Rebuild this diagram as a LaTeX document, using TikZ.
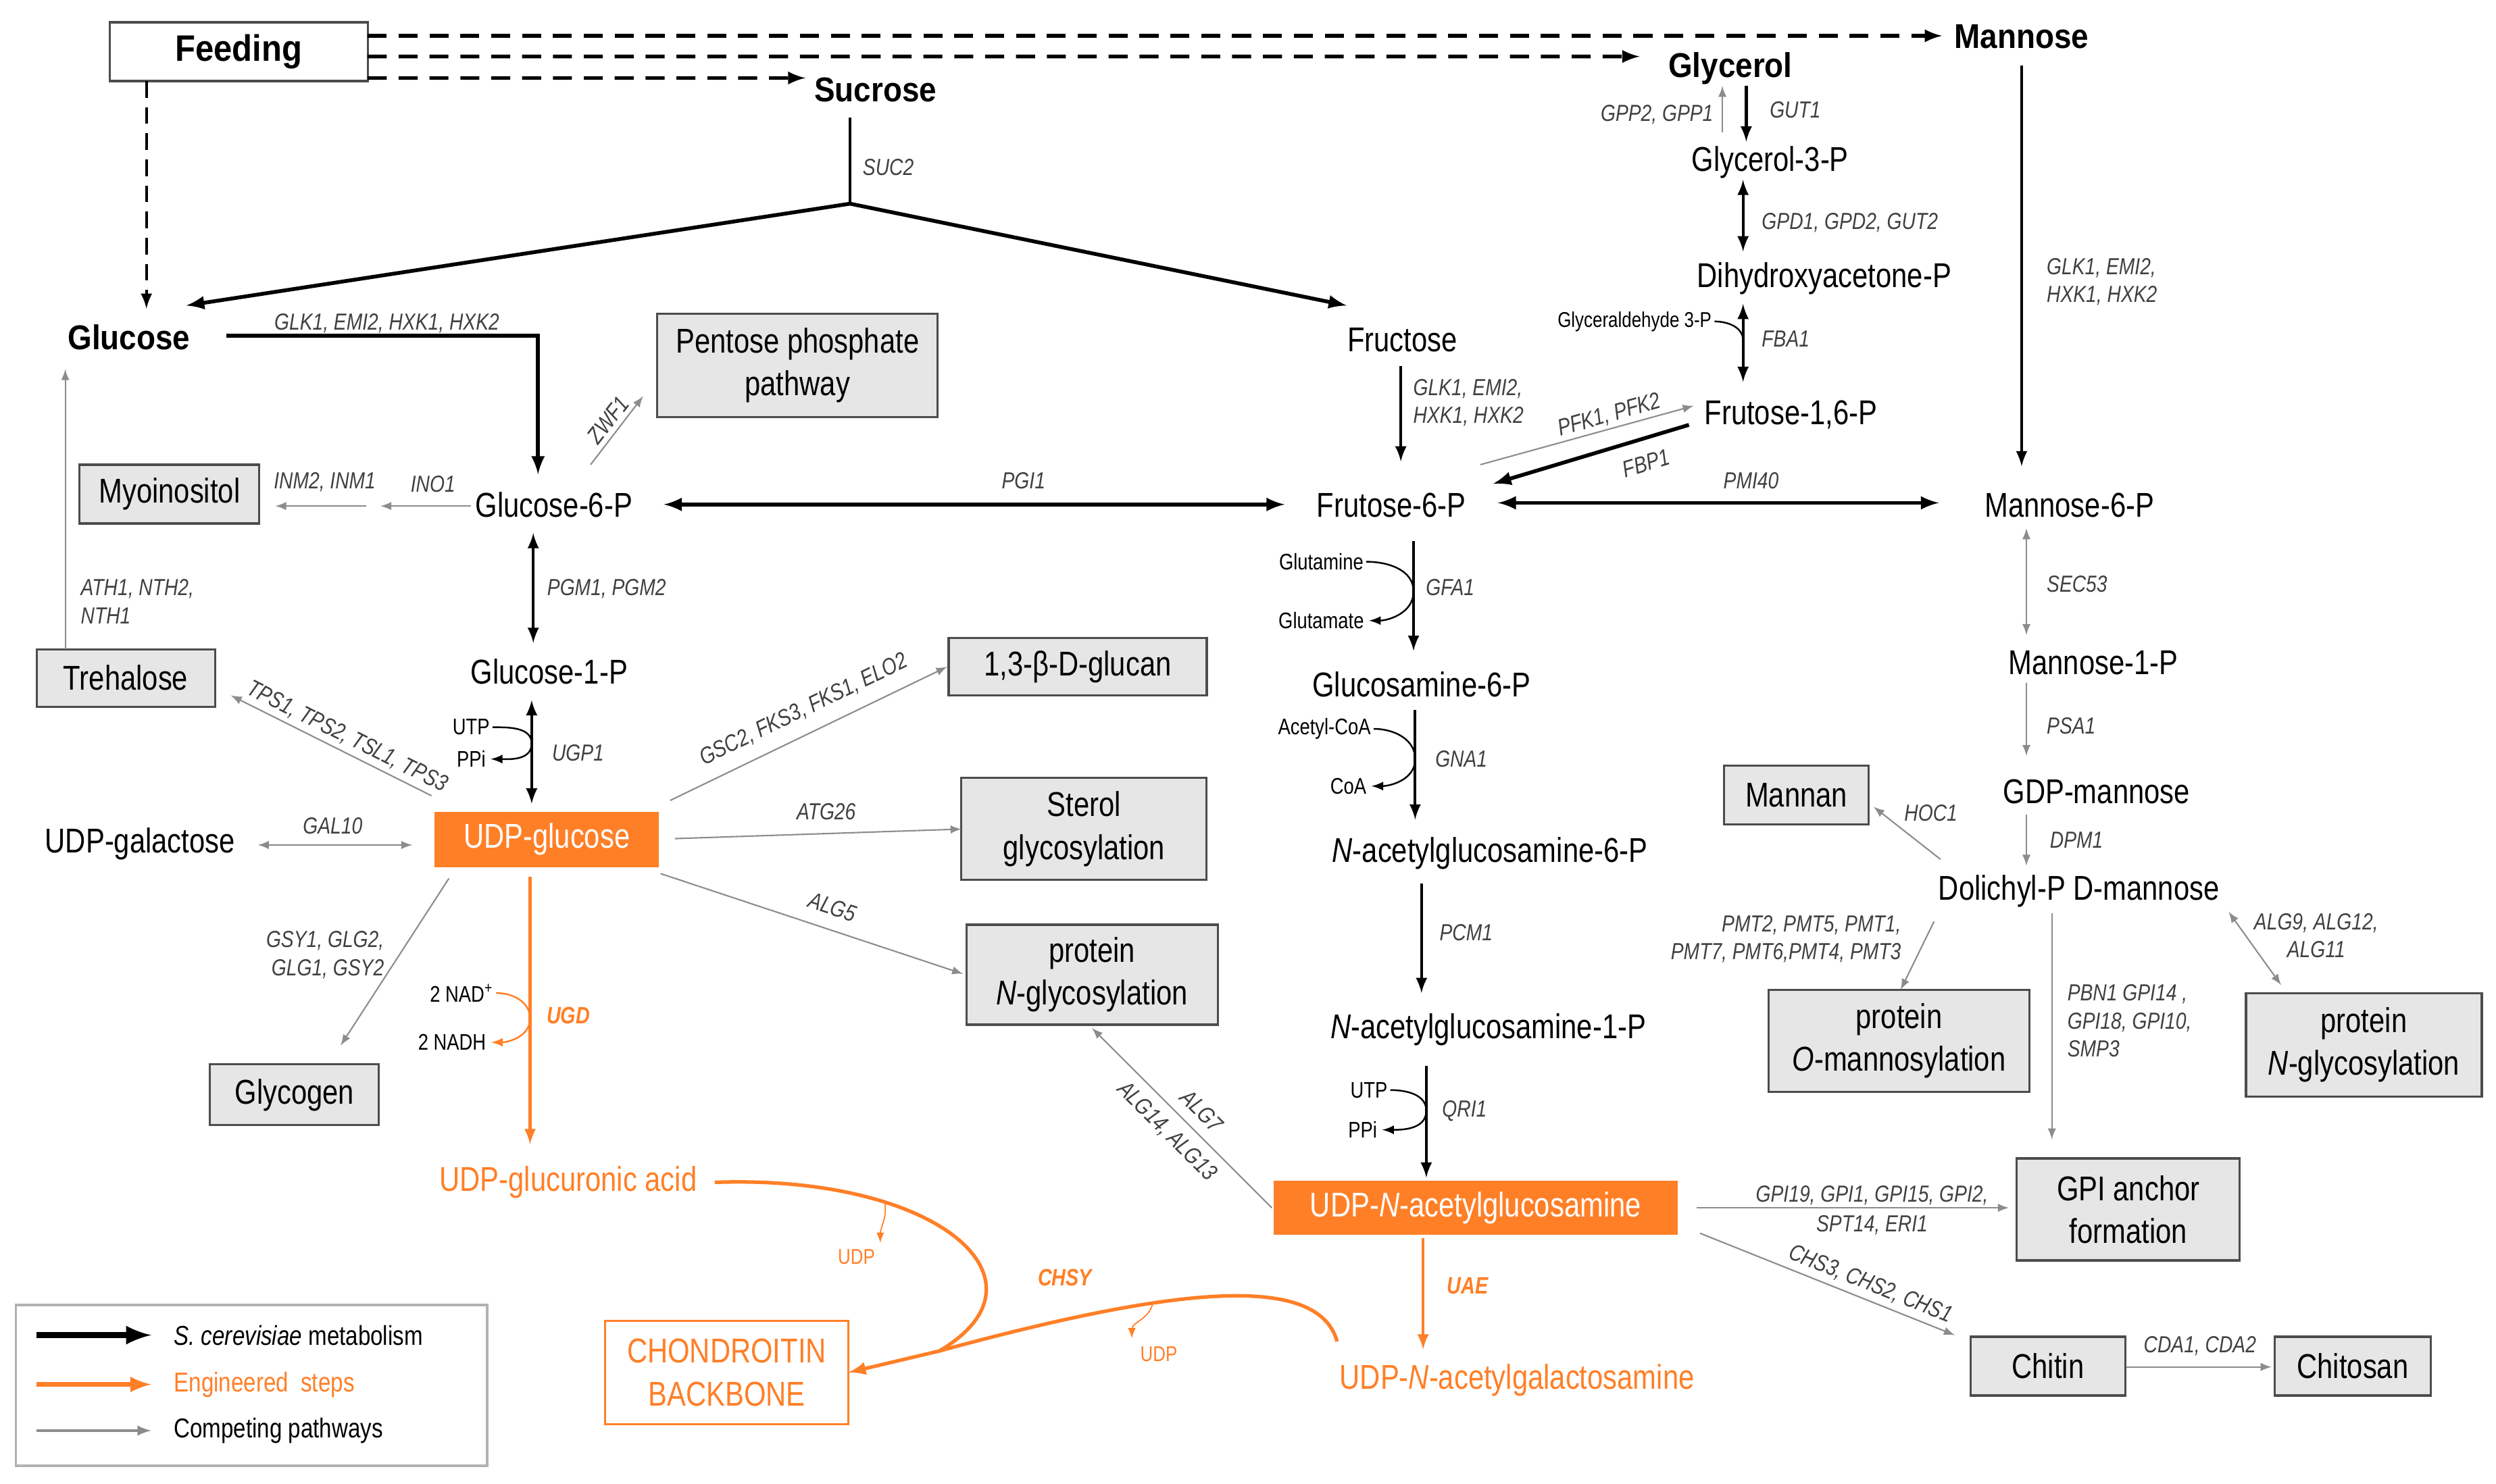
\documentclass[tikz,border=0pt]{standalone}
\usepackage{fontspec}
\setmainfont{Liberation Sans}[FakeStretch=0.82]
\newfontfamily\boldcond{Liberation Sans Bold}[FakeStretch=0.9]
\usetikzlibrary{arrows}
\definecolor{engorange}{RGB}{255,127,39}
\definecolor{boxgray}{RGB}{230,230,230}

\begin{document}
\begin{tikzpicture}[x=0.2356mm, y=-0.2356mm,
  cpd/.style={font=\fontsize{14.5}{17}\selectfont, inner sep=1pt, text height=12pt, text depth=1.6pt},
  cpdb/.style={cpd, font=\fontsize{14.5}{17}\boldcond},
  cpdo/.style={cpd, text=engorange},
  pbox/.style={draw=black!70, fill=boxgray, line width=0.9pt, align=center, inner sep=1pt, font=\fontsize{14.5}{18}\selectfont},
  obox/.style={fill=engorange, text=white, inner sep=1pt, font=\fontsize{14.5}{17}\selectfont},
  gene/.style={font=\fontsize{9.8}{11.8}\selectfont\itshape, text=black!75, inner sep=1pt},
  geneo/.style={font=\fontsize{10}{12}\selectfont\bfseries\itshape, text=engorange, inner sep=1pt},
  side/.style={font=\fontsize{9.5}{11}\selectfont, inner sep=1pt},
  leg/.style={font=\fontsize{11.5}{13}\selectfont, inner sep=0pt},
  met/.style={-latex, line width=1.2pt},
  metb/.style={-latex, line width=1.6pt},
  comp/.style={-latex, line width=0.6pt, color=black!45},
  eng/.style={-latex, line width=1.2pt, color=engorange},
  feed/.style={-latex, line width=1.5pt, dash pattern=on 8pt off 5pt},
  aux/.style={-latex, line width=0.7pt, shorten >=1pt}]
\useasboundingbox (0,0) rectangle (1568,932.5);

%%%%% Compounds %%%%%
\node[pbox, fill=white, font=\fontsize{15.5}{17}\boldcond, minimum width=38.2mm, minimum height=8.7mm] (Feeding) at (150,32.5) {Feeding};
\node[cpdb] (Sucrose) at (550,56) {Sucrose};
\node[cpdb] (Glycerol) at (1087,41) {Glycerol};
\node[cpdb] (Mannose) at (1270,22.5) {Mannose};
\node[cpdb] (Glucose) at (81,212) {Glucose};
\node[cpd] (Fructose) at (881,213) {Fructose};
\node[cpd] (G3P) at (1112,100) {Glycerol-3-P};
\node[cpd] (DHAP) at (1146,173) {Dihydroxyacetone-P};
\node[cpd] (F16P) at (1125,259) {Frutose-1,6-P};
\node[cpd] (G6P) at (348,317) {Glucose-6-P};
\node[cpd] (F6P) at (874,317) {Frutose-6-P};
\node[cpd] (M6P) at (1300,317) {Mannose-6-P};
\node[cpd] (G1P) at (345,422) {Glucose-1-P};
\node[cpd] (GlcN6P) at (893,430) {Glucosamine-6-P};
\node[cpd] (M1P) at (1315,416) {Mannose-1-P};
\node[cpd] (GDPman) at (1317,497) {GDP-mannose};
\node[cpd] (UDPgal) at (88,528) {UDP-galactose};
\node[cpd] (GlcNAc6P) at (936,534) {\textit{N}-acetylglucosamine-6-P};
\node[cpd] (DolPman) at (1306,558) {Dolichyl-P D-mannose};
\node[cpd] (GlcNAc1P) at (935,645) {\textit{N}-acetylglucosamine-1-P};
\node[cpdo] (UDPGlcA) at (357,741) {UDP-glucuronic acid};
\node[cpdo] (UDPGalNAc) at (953,865) {UDP-\textit{N}-acetylgalactosamine};
\node[obox, minimum width=33.2mm, minimum height=8.2mm] (UDPglc) at (343.5,527.5) {UDP-glucose};
\node[obox, minimum width=59.8mm, minimum height=8mm] (UDPGlcNAc) at (927,759) {UDP-\textit{N}-acetylglucosamine};
\node[pbox, fill=white, draw=engorange, text=engorange, line width=0.8pt, minimum width=36mm, minimum height=15.3mm] (Chond) at (456.5,862.5) {CHONDROITIN\\BACKBONE};

%%%%% Products %%%%%
\node[pbox, minimum width=41.5mm, minimum height=15.3mm] (Pentose) at (501,229.5) {Pentose phosphate\\pathway};
\node[pbox, minimum width=26.6mm, minimum height=8.7mm] (Myo) at (106.5,310.5) {Myoinositol};
\node[pbox, minimum width=26.4mm, minimum height=8.5mm] (Treh) at (79,426) {Trehalose};
\node[pbox, minimum width=25mm, minimum height=9mm] (Glycogen) at (185,688) {Glycogen};
\node[pbox, minimum width=38.2mm, minimum height=8.5mm] (Glucan) at (677,419) {1,3-β-D-glucan};
\node[pbox, minimum width=36.3mm, minimum height=15.1mm] (Sterol) at (681,521) {Sterol\\glycosylation};
\node[pbox, minimum width=37.2mm, minimum height=14.8mm] (protN) at (686,612.5) {protein\\\textit{N}-glycosylation};
\node[pbox, minimum width=21.4mm, minimum height=8.7mm] (Mannan) at (1128.5,499.5) {Mannan};
\node[pbox, minimum width=38.6mm, minimum height=15.1mm] (protO) at (1193,654) {protein\\\textit{O}-mannosylation};
\node[pbox, minimum width=34.9mm, minimum height=15.3mm] (protNb) at (1485,656.5) {protein\\\textit{N}-glycosylation};
\node[pbox, minimum width=33mm, minimum height=15.1mm] (GPI) at (1337,760) {GPI anchor\\formation};
\node[pbox, minimum width=22.9mm, minimum height=8.7mm] (Chitin) at (1286.5,858.5) {Chitin};
\node[pbox, minimum width=23.1mm, minimum height=8.7mm] (Chitosan) at (1478,858.5) {Chitosan};

%%%%% Feeding %%%%%
\draw[feed] ([shift={(81,-10)}]Feeding.center) -- ([shift={(-50,0)}]Mannose.center);
\draw[feed] ([shift={(81,3)}]Feeding.center) -- ([shift={(-57,-5.5)}]Glycerol.center);
\draw[feed] ([shift={(81,16.5)}]Feeding.center) -- ([shift={(-44,-7)}]Sucrose.center);
\draw[feed, line width=1.2pt, dash pattern=on 7pt off 4pt] ([shift={(-58,18.5)}]Feeding.center) -- ([shift={(11,-18)}]Glucose.center);

%%%%% Upper glycolysis %%%%%
\coordinate (suc) at (534,128);
\draw[line width=1.3pt] ([shift={(-16,18)}]Sucrose.center) -- (suc);
\draw[metb] (suc) -- ([shift={(36,-20)}]Glucose.center);
\draw[metb] (suc) -- ([shift={(-35,-21)}]Fructose.center);
\node[gene] (gSUC2) at (558,105) {SUC2};
\draw[metb] ([shift={(61,-1)}]Glucose.center) -| ([shift={(-10,-19)}]G6P.center);
\node[gene] (gGLK1) at (243,203) {GLK1, EMI2, HXK1, HXK2};
\draw[comp] ([shift={(23,-25)}]G6P.center) -- ([shift={(-97,19.5)}]Pentose.center);
\node[gene, rotate=52] (gZWF1) at (382,264) {ZWF1};
\coordinate (ino) at (234,318);
\draw[comp] ([shift={(-52,1)}]G6P.center) -- ([shift={(5,0)}]ino);
\draw[comp] ([shift={(-4,0)}]ino) -- ([shift={(66.5,7.5)}]Myo.center);
\node[gene] (gINO1) at (272,304) {INO1};
\node[gene] (gINM) at (204,303) {INM2, INM1};
\draw[metb, latex-latex] ([shift={(69,0)}]G6P.center) -- ([shift={(-67,0)}]F6P.center);
\node[gene] (gPGI1) at (643,302) {PGI1};
\draw[metb, latex-latex] ([shift={(67,-1)}]F6P.center) -- ([shift={(-82,-1)}]M6P.center);
\node[gene] (gPMI40) at (1100,302) {PMI40};
\draw[met] ([shift={(-1,17)}]Fructose.center) -- ([shift={(6,-27)}]F6P.center);
\node[gene, align=left, anchor=west] (gGLK2) at (886,253) {GLK1, EMI2,\\HXK1, HXK2};
\draw[met] ([shift={(0,18.5)}]Mannose.center) -- ([shift={(-30,-24)}]M6P.center);
\node[gene, align=left, anchor=west] (gGLK3) at (1284,177) {GLK1, EMI2,\\HXK1, HXK2};

%%%%% Glycerol %%%%%
\draw[met] ([shift={(10,13)}]Glycerol.center) -- ([shift={(-15,-11)}]G3P.center);
\node[gene, anchor=west] (gGUT1) at (1110,69) {GUT1};
\draw[comp] ([shift={(-30,-17)}]G3P.center) -- ([shift={(-5,13)}]Glycerol.center);
\node[gene, anchor=east] (gGPP) at (1078,72) {GPP2, GPP1};
\draw[met, latex-latex] ([shift={(-17,13)}]G3P.center) -- ([shift={(-51,-15)}]DHAP.center);
\node[gene, anchor=west] (gGPD) at (1105,140) {GPD1, GPD2, GUT2};
\draw[met, latex-latex] ([shift={(-51,18)}]DHAP.center) -- ([shift={(-30,-19)}]F16P.center) coordinate[pos=0.47] (fba);
\node[gene, anchor=west] (gFBA1) at (1105,213) {FBA1};
\node[side, font=\fontsize{9}{11}\selectfont, anchor=east] (GA3P) at (1077,202) {Glyceraldehyde 3-P};
\draw[line width=0.7pt] (GA3P.east) to[out=0,in=90] (fba);
\draw[comp] ([shift={(56,-25)}]F6P.center) -- ([shift={(-61,-4)}]F16P.center);
\node[gene, rotate=16] (gPFK) at (1011,261) {PFK1, PFK2};
\draw[metb] ([shift={(-64,8)}]F16P.center) -- ([shift={(64,-13)}]F6P.center);
\node[gene, rotate=17] (gFBP1) at (1034,291) {FBP1};

%%%%% Hexosamine %%%%%
\draw[met] ([shift={(14,23)}]F6P.center) -- ([shift={(-5,-21)}]GlcN6P.center) coordinate[pos=0.46] (gfa);
\node[gene] (gGFA1) at (911,369) {GFA1};
\node[side] (Gln) at (830,353) {Glutamine};
\node[side] (Glu) at (830,390) {Glutamate};
\draw[aux] (Gln.east) to[out=0,in=90] (gfa) to[out=-90,in=0] (Glu.east);
\draw[met] ([shift={(-4,16)}]GlcN6P.center) -- ([shift={(-47,-19)}]GlcNAc6P.center) coordinate[pos=0.45] (gna);
\node[gene] (gGNA1) at (918,477) {GNA1};
\node[side] (AcCoA) at (832,458) {Acetyl-CoA};
\node[side] (CoA) at (847,494) {CoA};
\draw[aux] (AcCoA.east) to[out=0,in=90] (gna) to[out=-90,in=0] (CoA.east);
\draw[met] ([shift={(-43,21)}]GlcNAc6P.center) -- ([shift={(-42,-21)}]GlcNAc1P.center);
\node[gene] (gPCM1) at (921,586) {PCM1};
\draw[met] ([shift={(-39,25)}]GlcNAc1P.center) -- ([shift={(-31,-19)}]UDPGlcNAc.center) coordinate[pos=0.4] (qri);
\node[gene] (gQRI1) at (920,698) {QRI1};
\node[side] (UTPb) at (860,685) {UTP};
\node[side] (PPib) at (856,710) {PPi};
\draw[aux] (UTPb.east) to[out=0,in=90] (qri) to[out=-90,in=0] (PPib.east);
\draw[eng] ([shift={(-33,19)}]UDPGlcNAc.center) -- ([shift={(-59,-17)}]UDPGalNAc.center);
\node[geneo] (gUAE) at (922,808) {UAE};

%%%%% Mannose branch %%%%%
\draw[comp, latex-latex] ([shift={(-27,15)}]M6P.center) -- ([shift={(-42,-17)}]M1P.center);
\node[gene, anchor=west] (gSEC53) at (1284,367) {SEC53};
\draw[comp] ([shift={(-42,13)}]M1P.center) -- ([shift={(-44,-22)}]GDPman.center);
\node[gene, anchor=west] (gPSA1) at (1284,456) {PSA1};
\draw[comp] ([shift={(-44,15)}]GDPman.center) -- ([shift={(-33,-14)}]DolPman.center);
\node[gene, anchor=west] (gDPM1) at (1286,528) {DPM1};
\draw[comp] ([shift={(-87,-18)}]DolPman.center) -- ([shift={(48.5,7.5)}]Mannan.center);
\node[gene] (gHOC1) at (1213,511) {HOC1};
\draw[comp] ([shift={(-91,21)}]DolPman.center) -- ([shift={(1,-32)}]protO.center);
\node[gene, align=right, anchor=east] (gPMT) at (1196,590) {PMT2, PMT5, PMT1,\\PMT7, PMT6,PMT4, PMT3};
\draw[comp] ([shift={(-17,16)}]DolPman.center) -- ([shift={(-48,-44)}]GPI.center);
\node[gene, align=left, anchor=north west] (gPBN1) at (1297,617) {PBN1 GPI14 ,\\GPI18, GPI10,\\SMP3};
\draw[comp, latex-latex] ([shift={(94,15)}]DolPman.center) -- ([shift={(-52,-37.5)}]protNb.center);
\node[gene, align=center] (gALG9) at (1455,588) {ALG9, ALG12,\\ALG11};
\draw[comp] ([shift={(139,0)}]UDPGlcNAc.center) -- ([shift={(-75,-1)}]GPI.center);
\node[gene] (gGPI19) at (1176,751) {GPI19, GPI1, GPI15, GPI2,};
\node[gene] (gSPT14) at (1176,770) {SPT14, ERI1};
\draw[comp] ([shift={(141,16)}]UDPGlcNAc.center) -- ([shift={(-58.5,-19.5)}]Chitin.center);
\node[gene, rotate=-21.8] (gCHS) at (1175,807) {CHS3, CHS2, CHS1};
\draw[comp] ([shift={(49.5,0.5)}]Chitin.center) -- ([shift={(-51,0.5)}]Chitosan.center);
\node[gene] (gCDA) at (1382,846) {CDA1, CDA2};

%%%%% UDP-glucose %%%%%
\draw[met, latex-latex] ([shift={(-13,18)}]G6P.center) -- ([shift={(-10,-18)}]G1P.center);
\node[gene, anchor=west] (gPGM) at (342,370) {PGM1, PGM2};
\draw[met, latex-latex] ([shift={(-11,18)}]G1P.center) -- ([shift={(-9.5,-22.5)}]UDPglc.center) coordinate[pos=0.42] (ugp);
\node[gene, anchor=west] (gUGP1) at (345,473) {UGP1};
\node[side] (UTPa) at (296,457) {UTP};
\node[side] (PPia) at (296,477) {PPi};
\draw[aux] (UTPa.east) to[out=0,in=90] (ugp) to[out=-90,in=0] (PPia.east);
\draw[comp] ([shift={(-72.5,-27.5)}]UDPglc.center) -- ([shift={(66,11)}]Treh.center);
\node[gene, rotate=-26.6] (gTPS) at (218,463) {TPS1, TPS2, TSL1, TPS3};
\draw[comp] ([shift={(-38,-18)}]Treh.center) -- ([shift={(-40,20)}]Glucose.center);
\node[gene, align=left, anchor=west] (gATH) at (49,378) {ATH1, NTH2,\\NTH1};
\draw[comp, latex-latex] ([shift={(-84.5,3.5)}]UDPglc.center) -- ([shift={(74,3)}]UDPgal.center);
\node[gene] (gGAL10) at (209,519) {GAL10};
\draw[comp] ([shift={(-61.5,24.5)}]UDPglc.center) -- ([shift={(29,-31)}]Glycogen.center);
\node[gene, align=right, anchor=east] (gGSY) at (243,600) {GSY1, GLG2,\\GLG1, GSY2};
\draw[comp] ([shift={(77.5,-24.5)}]UDPglc.center) -- ([shift={(-82,0)}]Glucan.center);
\node[gene, rotate=25.8] (gGSC2) at (505,446) {GSC2, FKS3, FKS1, ELO2};
\draw[comp] ([shift={(80.5,-0.5)}]UDPglc.center) -- ([shift={(-77,0)}]Sterol.center);
\node[gene] (gATG26) at (519,510) {ATG26};
\draw[comp] ([shift={(71.5,21.5)}]UDPglc.center) -- ([shift={(-81,-0.5)}]protN.center);
\node[gene, rotate=-18.3] (gALG5) at (523,570) {ALG5};
\draw[comp] ([shift={(-128,0)}]UDPGlcNAc.center) -- ([shift={(0,33.5)}]protN.center);
\node[gene, rotate=-45] (gALG7) at (755,698) {ALG7};
\node[gene, rotate=-45] (gALG14) at (733,711) {ALG14, ALG13};

%%%%% Engineered steps %%%%%
\draw[eng] ([shift={(-10.5,23.5)}]UDPglc.center) -- ([shift={(-24,-22)}]UDPGlcA.center) coordinate[pos=0.53] (ugd);
\node[geneo] (gUGD) at (357,638) {UGD};
\node[side] (NAD) at (290,624) {2 NAD\textsuperscript{+}};
\node[side] (NADH) at (284,655) {2 NADH};
\draw[aux, color=engorange] (NAD.east) to[out=0,in=90] (ugd) to[out=-90,in=0] (NADH.east);
\coordinate (chm) at (590,849);
\draw[line width=1.5pt, engorange] ([shift={(92,2)}]UDPGlcA.center) .. controls (590,738) and (665,805) .. (chm) coordinate[pos=0.3] (ud1);
\draw[eng, line width=1.5pt] ([shift={(-113,-22)}]UDPGalNAc.center) .. controls (828,800) and (740,808) .. (chm) coordinate[pos=0.65] (ud2) -- ([shift={(76.5,0)}]Chond.center);
\node[geneo] (gCHSY) at (669,803) {CHSY};
\node[side, text=engorange, font=\fontsize{9}{11}\selectfont] (UDPa) at (538,790) {UDP};
\node[side, text=engorange, font=\fontsize{9}{11}\selectfont] (UDPb) at (728,851) {UDP};
\draw[-latex, line width=0.5pt, engorange] (ud1) to[out=-80,in=90] ([shift={(15,-9)}]UDPa.center);
\draw[-latex, line width=0.5pt, engorange] (ud2) to[out=-100,in=90] ([shift={(-17,-10)}]UDPb.center);

%%%%% Legend %%%%%
\draw[black!30, line width=1pt] (10,820) rectangle (306,921);
\node[leg, anchor=west] (lg1) at (109,839) {\textit{S. cerevisiae} metabolism};
\node[leg, anchor=west, text=engorange] (lg2) at (109,870) {Engineered~~steps};
\node[leg, anchor=west] (lg3) at (109,899) {Competing pathways};
\draw[-latex, line width=2.6pt] ([shift={(-86,0)}]lg1.west) -- ([shift={(-14,0)}]lg1.west);
\draw[-latex, line width=2pt, engorange] ([shift={(-86,0)}]lg2.west) -- ([shift={(-14,0)}]lg2.west);
\draw[-latex, line width=1pt, black!45] ([shift={(-86,0)}]lg3.west) -- ([shift={(-14,0)}]lg3.west);
\end{tikzpicture}
\end{document}
